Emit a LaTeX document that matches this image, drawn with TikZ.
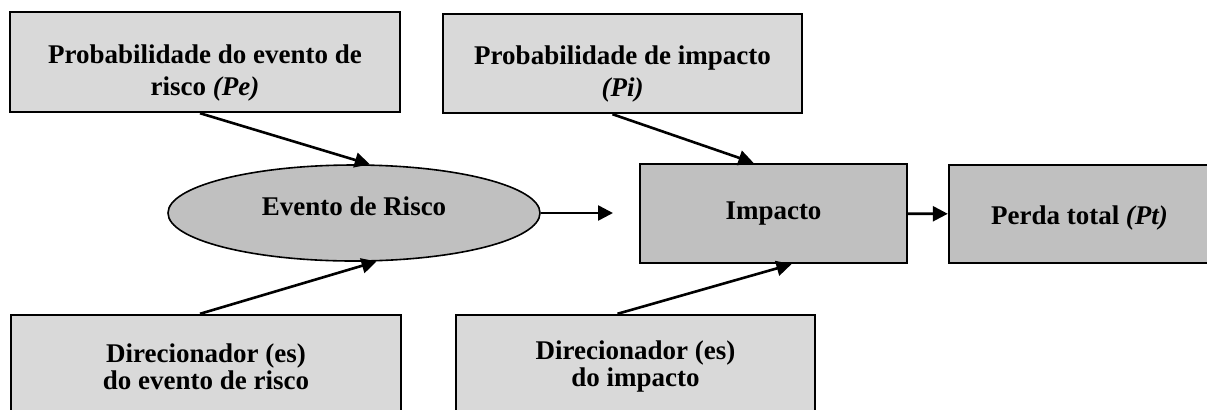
\documentclass[tikz,border=0pt]{standalone}
\usepackage{fontspec}
\setmainfont{Liberation Serif}
\usepackage{xcolor}
\usetikzlibrary{shapes.geometric, arrows.meta, calc}

\definecolor{lightbox}{HTML}{D9D9D9}
\definecolor{darkbox}{HTML}{C0C0C0}

\begin{document}
\begin{tikzpicture}[
        x=0.5pt, y=-0.5pt,
        factor/.style={rectangle, draw=black, line width=1.2pt, fill=lightbox, inner sep=0pt, align=center, font=\fontsize{13.5}{16}\selectfont\bfseries},
        driver/.style={factor, font=\fontsize{13.5}{11.5}\selectfont\bfseries},
        block/.style={factor, fill=darkbox},
        event/.style={ellipse, draw=black, line width=0.8pt, fill=darkbox, inner sep=0pt, minimum width=186pt, minimum height=48pt, text depth=7pt, font=\fontsize{13.5}{16}\selectfont\bfseries},
        relation/.style={-{Triangle[length=7.5pt, width=7.5pt]}, line width=1.3pt}
    ]
        \useasboundingbox (0,0) rectangle (1207,409);
        \begin{scope}
        \clip (0,0) rectangle (1207,409);

        % Top level - probabilities
        \node[factor, minimum width=195pt, minimum height=50pt] (pe) at (205, 62) {\rule{0pt}{20pt}Probabilidade do evento de\\risco \textit{(Pe)}};
        \node[factor, minimum width=179.5pt, minimum height=49.5pt] (pi) at (622.5, 63.5) {\rule{0pt}{20pt}Probabilidade de impacto\\\textit{(Pi)}};

        % Middle level - event, impact and loss
        \node[event] (evento) at (354, 213) {Evento de Risco};
        \node[block, minimum width=133.5pt, minimum height=49.5pt] (impacto) at (773.5, 213.5) {Impacto};
        \node[block, minimum width=130.5pt, minimum height=49pt] (perda) at (1079.5, 214) {\rule{0pt}{13pt}Perda total \textit{(Pt)}};
        \coordinate (evtend) at (613, 213);

        % Bottom level - drivers
        \node[driver, minimum width=195pt, minimum height=48pt] (dre) at (206, 363) {\rule{0pt}{13pt}Direcionador (es)\\do evento de risco};
        \node[driver, minimum width=179.5pt, minimum height=48pt] (dri) at (635.5, 363) {\rule{0pt}{13pt}Direcionador (es)\\do impacto};

        % Relationships
        \draw[relation] ($(pe.south)+(-5,0)$) -- (evento.72);
        \draw[relation] ($(dre.north)+(-6,0)$) -- (evento.-65);
        \draw[relation] ($(pi.south)+(-10,0)$) -- ($(impacto.north)+(-20,0)$);
        \draw[relation] ($(dri.north)+(-18,0)$) -- ($(impacto.south)+(18,0)$);
        \draw[relation] (evento) -- (evtend);
        \draw[relation] (impacto) -- (perda);
        \end{scope}
    \end{tikzpicture}
\end{document}
